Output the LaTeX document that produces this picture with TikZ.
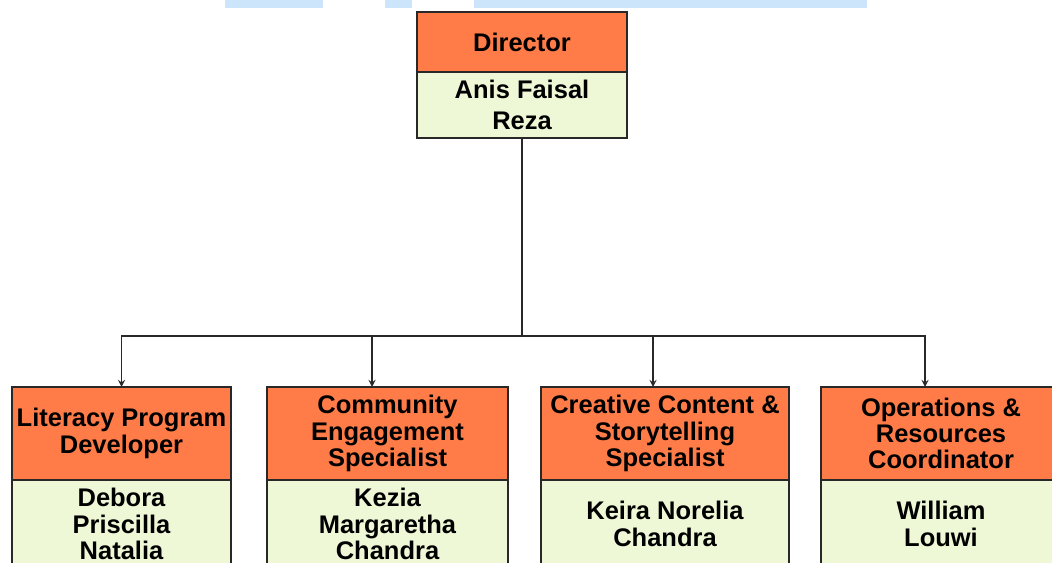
\documentclass[tikz,border=0pt]{standalone}
\usepackage{fontspec}
\setmainfont{Liberation Sans}
\usepackage{tikz}
\usetikzlibrary{arrows,shapes,positioning}
\usepackage{xcolor}
\definecolor{orghead}{RGB}{255,124,72}
\definecolor{orgname}{RGB}{238,248,214}
\definecolor{orgline}{RGB}{40,40,40}
\definecolor{bandblue}{RGB}{204,229,250}
\tikzstyle{arrow} = [line width=0.8pt,->,>=stealth,color=orgline]
\tikzstyle{link} = [line width=0.8pt,color=orgline]
\tikzstyle{headbox} = [rectangle, draw=orgline, fill=orghead, line width=1.1pt, outer sep=0pt, inner sep=1pt, align=center, font=\bfseries\fontsize{14.5}{15}\selectfont]
\tikzstyle{namebox} = [rectangle, draw=orgline, fill=orgname, line width=1.1pt, outer sep=0pt, inner sep=1pt, align=center, font=\bfseries\fontsize{14.5}{15}\selectfont]

\begin{document}
\begin{tikzpicture}
\useasboundingbox (0,0) rectangle (21.04,-11.26);
\clip (0,0) rectangle (21.04,-11.26);

% band along the top edge
\fill[bandblue] (4.5,0) rectangle (6.46,-0.16);
\fill[bandblue] (7.7,0) rectangle (8.24,-0.16);
\fill[bandblue] (9.48,0) rectangle (17.34,-0.16);

% Director
\node[headbox, minimum width=4.2cm, minimum height=1.2cm, anchor=north west] (dirhead) at (8.34,-0.24) {Director};
\node[namebox, minimum width=4.2cm, minimum height=1.32cm, below=0pt of dirhead, font=\bfseries\fontsize{14.5}{17.6}\selectfont] (dirname) {Anis Faisal\\Reza};

% Literacy Program Developer
\node[headbox, minimum width=4.38cm, minimum height=1.86cm, anchor=north west] (lithead) at (0.24,-7.74) {Literacy Program\\Developer};
\node[namebox, minimum width=4.38cm, minimum height=1.76cm, below=0pt of lithead] (litname) {Debora\\Priscilla\\Natalia};

% Community Engagement Specialist
\node[headbox, minimum width=4.82cm, minimum height=1.86cm, anchor=north west] (comhead) at (5.34,-7.74) {Community\\Engagement\\Specialist};
\node[namebox, minimum width=4.82cm, minimum height=1.76cm, below=0pt of comhead] (comname) {Kezia\\Margaretha\\Chandra};

% Creative Content & Storytelling Specialist
\node[headbox, minimum width=4.96cm, minimum height=1.86cm, anchor=north west] (crehead) at (10.82,-7.74) {Creative Content \&\\Storytelling\\Specialist};
\node[namebox, minimum width=4.96cm, minimum height=1.76cm, below=0pt of crehead] (crename) {Keira Norelia\\Chandra};

% Operations & Resources Coordinator
\node[headbox, minimum width=4.8cm, minimum height=1.86cm, anchor=north west] (opshead) at (16.42,-7.74) {Operations \&\\Resources\\Coordinator};
\node[namebox, minimum width=4.8cm, minimum height=1.76cm, below=0pt of opshead] (opsname) {William\\Louwi};

% connectors
\coordinate (bus) at (0,-6.72);
\draw[link] (dirname.south) -- (dirname.south |- bus);
\draw[arrow] (dirname.south |- bus) -| (lithead.north);
\draw[arrow] (dirname.south |- bus) -| ([xshift=-0.31cm]comhead.north);
\draw[arrow] (dirname.south |- bus) -| ([xshift=-0.24cm]crehead.north);
\draw[arrow] (dirname.south |- bus) -| ([xshift=-0.32cm]opshead.north);
\end{tikzpicture}
\end{document}
